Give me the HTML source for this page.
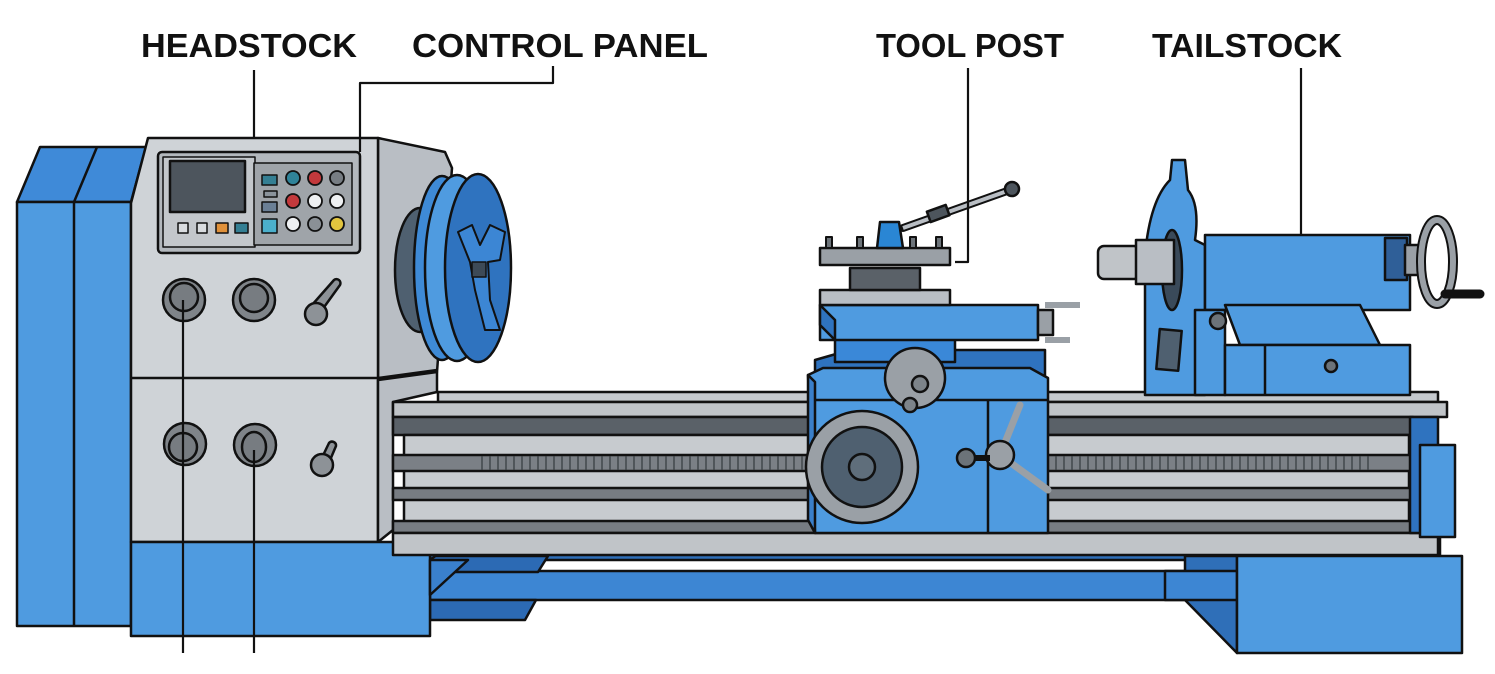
<!DOCTYPE html>
<html><head><meta charset="utf-8"><style>
html,body{margin:0;padding:0;background:#fff;}
svg{display:block;}
text{font-family:"Liberation Sans",sans-serif;font-weight:bold;font-size:33px;fill:#111;}
</style></head><body>
<svg width="1495" height="674" viewBox="0 0 1495 674" xmlns="http://www.w3.org/2000/svg" stroke="#111" stroke-width="2.5" stroke-linejoin="round">
<!-- labels -->
<g stroke="none">
<text x="141" y="57" textLength="216" lengthAdjust="spacingAndGlyphs">HEADSTOCK</text>
<text x="412" y="57" textLength="296" lengthAdjust="spacingAndGlyphs">CONTROL PANEL</text>
<text x="876" y="57" textLength="188" lengthAdjust="spacingAndGlyphs">TOOL POST</text>
<text x="1152" y="57" textLength="190" lengthAdjust="spacingAndGlyphs">TAILSTOCK</text>
</g>
<!-- left blue column -->
<polygon points="17,202 40,147 146,147 131,202" fill="#3f8ad8"/>
<rect x="17" y="202" width="114" height="424" fill="#4f9be0"/>
<line x1="74" y1="202" x2="74" y2="626"/>
<line x1="74" y1="202" x2="97" y2="147"/>
<!-- base under bed (back) -->
<polygon points="430,542 445,530 1440,530 1440,560 430,560" fill="#2f6fb8"/>
<!-- lead screw -->
<rect x="430" y="571" width="800" height="29" fill="#3d86d3"/>
<polygon points="430,556 548,556 538,572 430,572" fill="#2c6ab4"/>
<polygon points="430,600 536,600 525,620 430,620" fill="#2c6ab4"/>
<!-- headstock grey -->
<polygon points="378,138 445,152 452,168 437,372 378,380" fill="#b9bec4"/>
<polygon points="148,138 378,138 378,542 131,542 131,203" fill="#cfd3d7"/>
<line x1="131" y1="378" x2="378" y2="378"/>
<line x1="378" y1="378" x2="437" y2="370"/>
<polygon points="378,380 437,372 437,392 393,402 393,530 378,542" fill="#b9bec4"/>
<!-- control panel -->
<rect x="158" y="152" width="202" height="101" rx="4" fill="#b3b8bd"/>
<rect x="163" y="157" width="92" height="90" fill="#c3c7cb" stroke-width="1.5"/>
<rect x="170" y="161" width="75" height="51" fill="#4d555d"/>
<rect x="178" y="223" width="10" height="10" fill="#d9dcdf" stroke-width="1.5"/>
<rect x="197" y="223" width="10" height="10" fill="#d9dcdf" stroke-width="1.5"/>
<rect x="216" y="223" width="12" height="10" fill="#e0913a" stroke-width="1.5"/>
<rect x="235" y="223" width="13" height="10" fill="#347f93" stroke-width="1.5"/>
<rect x="254" y="163" width="98" height="82" fill="#9fa4a9" stroke-width="1.5"/>
<rect x="262" y="175" width="15" height="10" fill="#347f93" stroke-width="1.5"/>
<rect x="264" y="191" width="13" height="6" fill="#8a939b" stroke-width="1.5"/>
<rect x="262" y="202" width="15" height="10" fill="#6a7f95" stroke-width="1.5"/>
<rect x="262" y="219" width="15" height="14" fill="#4bb0cc" stroke-width="1.5"/>
<g stroke-width="1.8">
<circle cx="293" cy="178" r="7" fill="#2f8399"/><circle cx="315" cy="178" r="7" fill="#c3393c"/><circle cx="337" cy="178" r="7" fill="#777d83"/>
<circle cx="293" cy="201" r="7" fill="#c3393c"/><circle cx="315" cy="201" r="7" fill="#eef0f2"/><circle cx="337" cy="201" r="7" fill="#eef0f2"/>
<circle cx="293" cy="224" r="7" fill="#eef0f2"/><circle cx="315" cy="224" r="7" fill="#8a9096"/><circle cx="337" cy="224" r="7" fill="#e1c43e"/>
</g>
<!-- knobs -->
<g fill="#7f8489">
<circle cx="184" cy="300" r="21"/><circle cx="184" cy="297" r="14" fill="#777c81"/>
<circle cx="254" cy="300" r="21"/><circle cx="254" cy="298" r="14" fill="#777c81"/>
<circle cx="185" cy="444" r="21"/><circle cx="183" cy="447" r="14" fill="#777c81"/>
<circle cx="255" cy="445" r="21"/><ellipse cx="254" cy="447" rx="12" ry="15" fill="#777c81"/>
</g>
<g fill="#8d9297">
<path d="M322,310 L340,285 A4,4 0 0 0 334,280 L312,305 Z"/>
<circle cx="316" cy="314" r="11"/>
<path d="M325,472 L336,446 A4,4 0 0 0 329,443 L317,468 Z"/>
<circle cx="322" cy="465" r="11"/>
</g>
<!-- blue base headstock -->
<polygon points="430,542 446,530 446,548 430,560" fill="#2f6fb8"/>
<rect x="131" y="542" width="299" height="94" fill="#4f9be0"/>
<polygon points="430,560 468,560 430,595" fill="#3a80cc"/>
<!-- chuck -->
<ellipse cx="420" cy="270" rx="25" ry="62" fill="#4f6070"/>
<ellipse cx="442" cy="268" rx="28" ry="92" fill="#3e8ad6"/>
<ellipse cx="457" cy="268" rx="32" ry="93" fill="#4f9be0"/>
<ellipse cx="478" cy="268" rx="33" ry="94" fill="#2f73bf"/>
<path d="M458,232 L472,225 L480,245 L490,225 L505,232 L500,260 L488,262 L490,300 L500,330 L485,330 L475,290 L470,262 Z" fill="#3c86d4" stroke-width="2"/>
<rect x="472" y="262" width="14" height="15" fill="#3d4a57" stroke-width="1.5"/>
<!-- bed -->
<rect x="438" y="392" width="1000" height="10" fill="#c5c9cd"/>
<rect x="393" y="402" width="1054" height="15" fill="#c0c4c8"/>
<rect x="393" y="417" width="1020" height="18" fill="#5a6168"/>
<rect x="404" y="435" width="1005" height="98" fill="#c7cbcf"/>
<rect x="393" y="455" width="1020" height="16" fill="#7b8086"/>
<g stroke="#3a3f44" stroke-width="1.3">
<path d="M482,456 V470 M490,456 V470 M498,456 V470 M506,456 V470 M514,456 V470 M522,456 V470 M530,456 V470 M538,456 V470 M546,456 V470 M554,456 V470 M562,456 V470 M570,456 V470 M578,456 V470 M586,456 V470 M594,456 V470 M602,456 V470 M610,456 V470 M618,456 V470 M626,456 V470 M634,456 V470 M642,456 V470 M650,456 V470 M658,456 V470 M666,456 V470 M674,456 V470 M682,456 V470 M690,456 V470 M698,456 V470 M706,456 V470 M714,456 V470 M722,456 V470 M730,456 V470 M738,456 V470 M746,456 V470 M754,456 V470 M762,456 V470 M770,456 V470 M778,456 V470 M786,456 V470 M794,456 V470 M802,456 V470"/>
<path d="M1056,456 V470 M1064,456 V470 M1072,456 V470 M1080,456 V470 M1088,456 V470 M1096,456 V470 M1104,456 V470 M1112,456 V470 M1120,456 V470 M1128,456 V470 M1136,456 V470 M1144,456 V470 M1152,456 V470 M1160,456 V470 M1168,456 V470 M1176,456 V470 M1184,456 V470 M1192,456 V470 M1200,456 V470 M1208,456 V470 M1216,456 V470 M1224,456 V470 M1232,456 V470 M1240,456 V470 M1248,456 V470 M1256,456 V470 M1264,456 V470 M1272,456 V470 M1280,456 V470 M1288,456 V470 M1296,456 V470 M1304,456 V470 M1312,456 V470 M1320,456 V470 M1328,456 V470 M1336,456 V470 M1344,456 V470 M1352,456 V470 M1360,456 V470 M1368,456 V470"/>
</g>
<rect x="393" y="488" width="1020" height="12" fill="#777c82"/>
<rect x="393" y="521" width="1020" height="12" fill="#777c82"/>
<rect x="393" y="533" width="1045" height="22" fill="#c0c4c8"/>
<!-- right end of bed -->
<rect x="1410" y="417" width="28" height="116" fill="#2f73bf"/>
<rect x="1420" y="445" width="35" height="92" fill="#4f9be0"/>
<!-- right foot -->
<polygon points="1185,556 1237,556 1237,653 1185,600" fill="#2f6fb8"/>
<rect x="1165" y="571" width="72" height="29" fill="#3d86d3"/>
<rect x="1237" y="556" width="225" height="97" fill="#4f9be0"/>
<!-- carriage -->
<polygon points="815,360 850,350 1045,350 1045,380 815,380" fill="#2f73bf"/>
<rect x="835" y="330" width="120" height="32" fill="#3a88d8"/>
<polygon points="808,375 823,368 1030,368 1048,378 1048,533 815,533" fill="#4f9be0"/>
<line x1="815" y1="400" x2="1048" y2="400"/>
<line x1="988" y1="400" x2="988" y2="533"/>
<polygon points="808,375 815,382 815,533 808,520" fill="#3a7fc9"/>
<circle cx="862" cy="467" r="56" fill="#9aa0a6"/>
<circle cx="862" cy="467" r="40" fill="#4f6070"/>
<circle cx="862" cy="467" r="13" fill="#5f6e7b"/>
<circle cx="915" cy="378" r="30" fill="#9aa0a6"/>
<circle cx="920" cy="384" r="8" fill="#7d848a"/>
<circle cx="910" cy="405" r="7" fill="#7d848a"/>
<path d="M1000,455 L1020,405 M1000,455 L1048,490" stroke="#9aa0a6" stroke-width="7" stroke-linecap="round"/>
<circle cx="1000" cy="455" r="14" fill="#9aa0a6"/>
<line x1="970" y1="458" x2="990" y2="458" stroke-width="6"/>
<circle cx="966" cy="458" r="9" fill="#6c7379"/>
<!-- cross slide / compound -->
<rect x="820" y="305" width="218" height="35" fill="#4f9be0"/>
<polygon points="820,305 835,320 835,340 820,325" fill="#2f73bf"/>
<rect x="820" y="290" width="130" height="15" fill="#b9bec4"/>
<rect x="850" y="268" width="70" height="22" fill="#5a6168"/>
<rect x="820" y="248" width="130" height="17" fill="#9aa0a6"/>
<g fill="#6c7379" stroke-width="2">
<rect x="826" y="237" width="6" height="11"/><rect x="857" y="237" width="6" height="11"/><rect x="910" y="237" width="6" height="11"/><rect x="936" y="237" width="6" height="11"/>
</g>
<path d="M877,248 L880,222 L899,222 L903,248 Z" fill="#2a86d4"/>
<line x1="903" y1="228" x2="1010" y2="190" stroke="#111" stroke-width="8" stroke-linecap="round"/>
<line x1="903" y1="228" x2="1010" y2="190" stroke="#b9bec4" stroke-width="4"/>
<rect x="928" y="208" width="20" height="11" fill="#4d555d" transform="rotate(-20 938 213)"/>
<circle cx="1012" cy="189" r="7" fill="#4d555d"/>
<rect x="1038" y="310" width="15" height="25" fill="#9aa0a6"/>
<path d="M1045,305 H1080 M1045,340 H1070" stroke-width="6" stroke="#9aa0a6"/>
<!-- tailstock -->
<path d="M1145,395 L1145,255 Q1150,200 1170,180 L1172,160 L1185,160 L1188,190 Q1200,205 1195,240 L1205,245 L1205,395 Z" fill="#4f9be0"/>
<ellipse cx="1172" cy="270" rx="10" ry="40" fill="#3a4a5a"/>
<rect x="1158" y="330" width="22" height="40" fill="#4f6070" transform="rotate(5 1170 350)"/>
<rect x="1205" y="235" width="205" height="75" fill="#4f9be0"/>
<rect x="1195" y="310" width="30" height="85" fill="#4f9be0"/>
<polygon points="1225,305 1360,305 1380,345 1240,345" fill="#4f9be0"/>
<rect x="1225" y="345" width="185" height="50" fill="#4f9be0"/>
<line x1="1265" y1="345" x2="1265" y2="395"/>
<circle cx="1331" cy="366" r="6" fill="#6c7379"/>
<circle cx="1218" cy="321" r="8" fill="#6c7379"/>
<rect x="1098" y="246" width="42" height="33" rx="6" fill="#c0c4c8"/>
<rect x="1136" y="240" width="38" height="44" fill="#b9bec4"/>
<rect x="1385" y="238" width="22" height="42" fill="#2f5f98"/>
<rect x="1405" y="245" width="18" height="30" fill="#9aa0a6"/>
<ellipse cx="1437" cy="262" rx="16" ry="42" fill="none" stroke="#111" stroke-width="10"/>
<ellipse cx="1437" cy="262" rx="16" ry="42" fill="none" stroke="#9aa0a6" stroke-width="6"/>
<line x1="1445" y1="294" x2="1480" y2="294" stroke-width="9" stroke-linecap="round"/>
<!-- leader lines -->
<g fill="none" stroke="#111" stroke-width="2.2">
<path d="M254,70 V138"/>
<path d="M553,66 V83 H360 V152"/>
<path d="M968,68 V262 H955"/>
<path d="M1301,68 V235"/>
<path d="M183,300 V653"/>
<path d="M254,450 V653"/>
</g>
</svg>
</body></html>
